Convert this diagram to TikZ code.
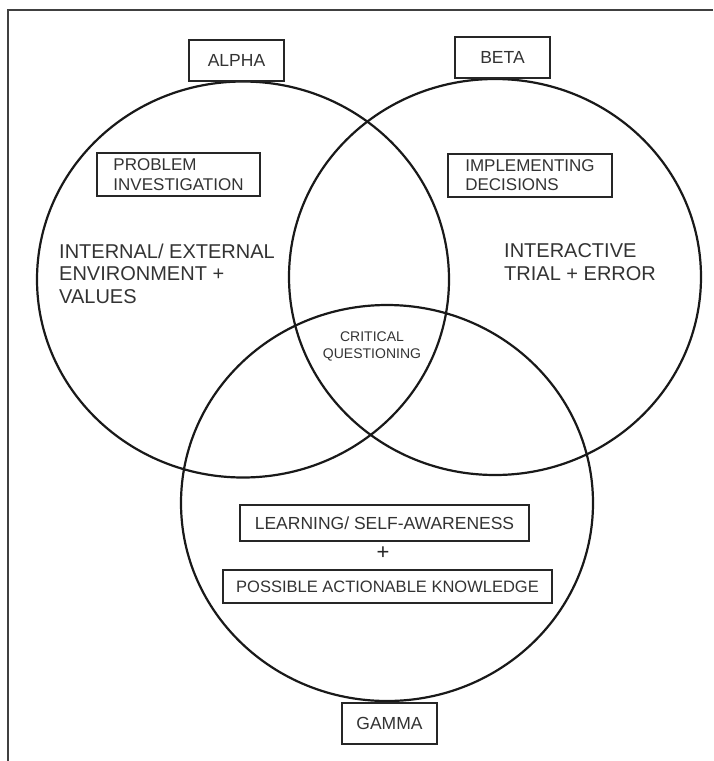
\documentclass[tikz,border=0pt]{standalone}
\usepackage{fontspec}
\setmainfont{Liberation Sans}
\usetikzlibrary{shapes.geometric}

\begin{document}
\begin{tikzpicture}[x=1pt, y=-1pt,
    set/.style={draw=black!90, line width=2.2pt, ellipse, minimum width=412pt, minimum height=396pt, inner sep=0pt},
    tag/.style={draw=black!85, line width=2.2pt, fill=white, text=black!80, inner sep=0pt, font=\fontsize{17.5}{20}\selectfont},
    big/.style={text=black!80, inner sep=0pt, align=left, font=\fontsize{20}{22.5}\selectfont}]
    \useasboundingbox (0,0) rectangle (713,761);
    \draw[black!75, line width=2.5pt] (8,761) -- (8,10) -- (713,10);
    % the three sets
    \node[set] (alpha) at (243,279.5) {};
    \node[set] (beta) at (495,277) {};
    \node[set] (gamma) at (387,503) {};
    % names
    \node[tag, minimum width=95pt, minimum height=41pt] (alphatag) at (236.5,60.5) {ALPHA};
    \node[tag, minimum width=95pt, minimum height=41pt] (betatag) at (502.5,57.5) {BETA};
    \node[tag, minimum width=95pt, minimum height=41pt] (gammatag) at (389.5,723.5) {GAMMA};
    % inside the sets
    \node[tag, align=left, minimum width=163pt, minimum height=43pt, font=\fontsize{17}{20}\selectfont] (problem) at (178.5,174.5) {PROBLEM\\INVESTIGATION};
    \node[tag, align=left, minimum width=164pt, minimum height=43pt, font=\fontsize{17}{19}\selectfont] (implement) at (530,175.5) {IMPLEMENTING\\DECISIONS};
    \node[big, anchor=west] (environment) at (59,273.5) {INTERNAL/ EXTERNAL\\ENVIRONMENT +\\VALUES};
    \node[big, anchor=west] (trial) at (504,262) {INTERACTIVE\\TRIAL + ERROR};
    \node[text=black!80, inner sep=0pt, align=center, font=\fontsize{14}{17}\selectfont] (critical) at (372,346) {CRITICAL\\QUESTIONING};
    \node[tag, minimum width=289pt, minimum height=36pt] (learning) at (384.5,523) {LEARNING/ SELF-AWARENESS};
    \node[text=black!85, inner sep=0pt, font=\fontsize{22}{22}\selectfont] (plus) at (383,553) {+};
    \node[tag, minimum width=329pt, minimum height=33pt, font=\fontsize{16.5}{20}\selectfont] (knowledge) at (387.5,586.5) {POSSIBLE ACTIONABLE KNOWLEDGE};
\end{tikzpicture}
\end{document}
